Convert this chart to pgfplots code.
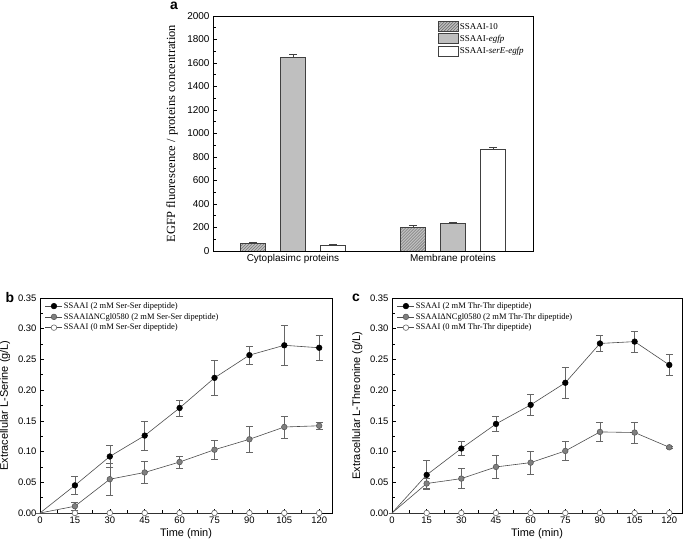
\documentclass[border=0pt]{standalone}
\usepackage{fontspec}
\setmainfont{Liberation Sans}
\newfontfamily\serif{Liberation Serif}
\usepackage{pgfplots}
\pgfplotsset{compat=1.18}
\usetikzlibrary{patterns}

\pgfplotsset{
  panel/.style={
    scale only axis,
    axis line style={line width=0.9pt},
    tick align=inside,
    xtick pos=left, ytick pos=left,
    tick style={black, line width=0.6pt},
    major tick length=4bp, minor tick length=2.5bp,
    /pgf/number format/assume math mode=true,
    /pgf/number format/1000 sep={},
    tick label style={font=\fontsize{9.5}{11}\selectfont},
    label style={font=\fontsize{11}{13}\selectfont},
  },
  errs/.style={error bars/.cd, y dir=both, y explicit,
    error bar style={black!60, line width=0.6pt},
    error mark options={rotate=90, mark size=3.5bp, black!60, line width=0.6pt}},
  lineleg/.style={legend image code/.code={%
    \draw[##1, mark indices={2}] plot coordinates {(0bp,0bp) (8.5bp,0bp) (17bp,0bp)};}},
  sblack/.style={draw=black!70, line width=0.6pt, mark=*, mark size=2.8bp,
    mark options={fill=black, draw=black}, mark indices={2,3,4,5,6,7,8,9}, lineleg},
  sgray/.style={draw=black!70, line width=0.6pt, mark=*, mark size=2.8bp,
    mark options={fill=black!50, draw=black!65}, mark indices={2,3,4,5,6,7,8,9}, lineleg},
  sopen/.style={draw=black!70, line width=0.6pt, mark=*, mark size=2.8bp,
    mark options={fill=white, draw=black!60}, mark indices={2,3,4,5,6,7,8,9}, lineleg},
  timeaxis/.style={panel,
    width=292bp, height=215bp,
    xmin=0, xmax=125.5, ymin=0, ymax=0.35,
    xtick={0,15,...,120}, ytick={0,0.05,...,0.351},
    minor x tick num=1, minor y tick num=1,
    scaled y ticks=false, clip=false,
    yticklabel style={/pgf/number format/.cd, fixed, fixed zerofill, precision=2},
    xlabel={Time (min)},
    xlabel style={at={(axis description cs:0.5,-0.098)}, anchor=center},
    legend style={draw=none, fill=none, at={(axis description cs:0.017,0.986)},
      anchor=north west, font=\serif\fontsize{8.5}{9}\selectfont,
      row sep=1bp, inner sep=0pt, legend cell align=left,
      nodes={inner sep=1.2bp}},
  },
}

\begin{document}
\begin{tikzpicture}
\path[use as bounding box] (0,0) rectangle (685bp,541bp);

% ---- panel a ----
\begin{axis}[panel,
  at={(213bp,290bp)}, anchor=south west,
  width=320bp, height=235bp,
  xmin=0, xmax=8, ymin=0, ymax=2000,
  xtick={2,6}, xticklabels={Cytoplasimc proteins, Membrane proteins},
  xtick style={draw=none},
  ytick={0,200,...,2000}, minor y tick num=1,
  scaled y ticks=false,
  tick label style={font=\fontsize{10}{12}\selectfont},
  ylabel={\serif EGFP fluorescence / proteins concentration},
  ylabel style={at={(axis description cs:-0.128,0.5)}, anchor=center,
    font=\fontsize{12.5}{14}\selectfont},
  legend style={draw=none, fill=none, at={(axis description cs:0.703,0.979)},
    anchor=north west, font=\serif\fontsize{9}{10}\selectfont,
    row sep=1.5bp, inner sep=0pt, legend cell align=left,
    nodes={inner sep=1.2bp}},
  legend image code/.code={\draw[#1] (0bp,-4.5bp) rectangle (20bp,5.5bp);},
]
\addplot[ybar, bar width=0.62, bar shift=0pt, draw=black!75, line width=0.6pt,
  fill=black!25, postaction={pattern=north east lines, pattern color=black!60}]
  coordinates {(1,65) (5,200)};
\addlegendentry{SSAAI-10}
\addplot[ybar, bar width=0.62, bar shift=0pt, draw=black!75, line width=0.6pt,
  fill=black!25]
  coordinates {(2,1650) (6,235)};
\addlegendentry{SSAAI-\textit{egfp}}
\addplot[ybar, bar width=0.62, bar shift=0pt, draw=black!75, line width=0.6pt,
  fill=white]
  coordinates {(3,50) (7,865)};
\addlegendentry{SSAAI-\textit{serE-egfp}}
\addplot[draw=none, mark=none, forget plot,
  error bars/.cd, y dir=plus, y explicit,
  error bar style={black!75, line width=0.6pt},
  error mark options={rotate=90, mark size=4bp, black!75, line width=0.6pt}]
  coordinates {(1,65) +- (0,6) (2,1650) +- (0,25) (3,50) +- (0,3)
               (5,200) +- (0,15) (6,235) +- (0,8) (7,865) +- (0,14)};
\end{axis}

% ---- panel b ----
\begin{axis}[timeaxis,
  at={(40bp,28bp)}, anchor=south west,
  ylabel={Extracellular L-Serine (g/L)},
  ylabel style={at={(axis description cs:-0.12,0.5)}, anchor=center},
]
\addplot[sblack, errs] coordinates {
  (0,0) +- (0,0) (15,0.045) +- (0,0.014) (30,0.092) +- (0,0.018)
  (45,0.126) +- (0,0.024) (60,0.171) +- (0,0.013) (75,0.220) +- (0,0.029)
  (90,0.257) +- (0,0.015) (105,0.273) +- (0,0.032) (120,0.269) +- (0,0.020)};
\addlegendentry{SSAAI (2 mM Ser-Ser dipeptide)}
\addplot[sgray, errs] coordinates {
  (0,0) +- (0,0) (15,0.011) +- (0,0.007) (30,0.055) +- (0,0.026)
  (45,0.066) +- (0,0.018) (60,0.083) +- (0,0.010) (75,0.103) +- (0,0.015)
  (90,0.120) +- (0,0.021) (105,0.140) +- (0,0.018) (120,0.142) +- (0,0.005)};
\addlegendentry{SSAAIΔNCgl0580 (2 mM Ser-Ser dipeptide)}
\addplot[sopen] coordinates {
  (0,0) (15,0) (30,0) (45,0) (60,0) (75,0) (90,0) (105,0) (120,0)};
\addlegendentry{SSAAI (0 mM Ser-Ser dipeptide)}
\end{axis}

% ---- panel c ----
\begin{axis}[timeaxis,
  at={(392bp,28bp)}, anchor=south west, width=290bp,
  ylabel={Extracellular L-Threonine (g/L)},
  ylabel style={at={(axis description cs:-0.12,0.5)}, anchor=center},
]
\addplot[sblack, errs] coordinates {
  (0,0) +- (0,0) (15,0.062) +- (0,0.024) (30,0.105) +- (0,0.011)
  (45,0.145) +- (0,0.012) (60,0.176) +- (0,0.017) (75,0.212) +- (0,0.026)
  (90,0.276) +- (0,0.013) (105,0.279) +- (0,0.017) (120,0.241) +- (0,0.017)};
\addlegendentry{SSAAI (2 mM Thr-Thr dipeptide)}
\addplot[sgray, errs] coordinates {
  (0,0) +- (0,0) (15,0.048) +- (0,0.008) (30,0.056) +- (0,0.016)
  (45,0.075) +- (0,0.019) (60,0.082) +- (0,0.019) (75,0.101) +- (0,0.016)
  (90,0.132) +- (0,0.016) (105,0.131) +- (0,0.017) (120,0.107) +- (0,0.002)};
\addlegendentry{SSAAIΔNCgl0580 (2 mM Thr-Thr dipeptide)}
\addplot[sopen] coordinates {
  (0,0) (15,0) (30,0) (45,0) (60,0) (75,0) (90,0) (105,0) (120,0)};
\addlegendentry{SSAAI (0 mM Thr-Thr dipeptide)}
\end{axis}

\node[font=\bfseries\fontsize{14}{14}\selectfont] at (174bp,535bp) {a};
\node[font=\bfseries\fontsize{14}{14}\selectfont] at (10bp,243bp) {b};
\node[font=\bfseries\fontsize{14}{14}\selectfont] at (356bp,243bp) {c};
\end{tikzpicture}
\end{document}
